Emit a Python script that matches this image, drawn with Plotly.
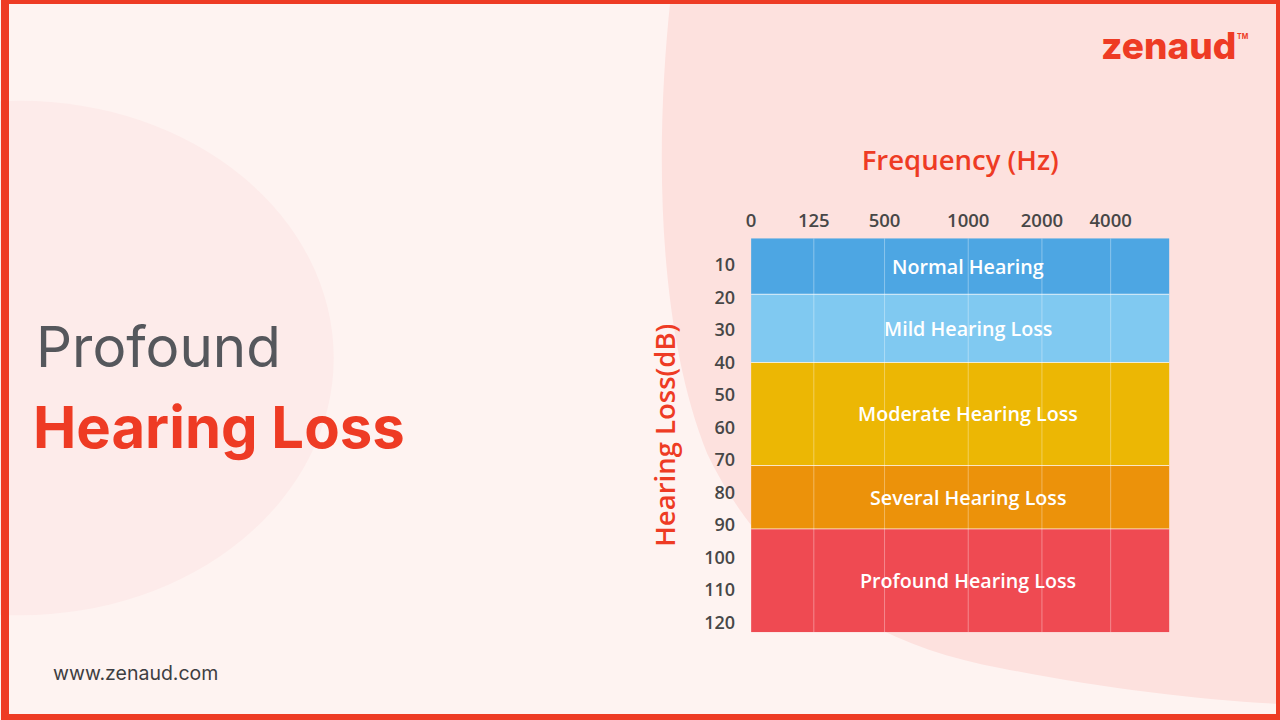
import plotly.graph_objects as go

# ---------------- data ----------------
band_labels = ["Normal Hearing", "Mild Hearing Loss", "Moderate Hearing Loss",
               "Several Hearing Loss", "Profound Hearing Loss"]
band_top = [1.8, 19, 40, 71.7, 91.2]        # dB (upper edge of band)
band_bottom = [19, 40, 71.7, 91.2, 123]     # dB (lower edge of band)
band_colors = ["#4DA6E3", "#80C9F1", "#ECB704", "#EC920A", "#EF4A52"]

freq_labels = ["0", "125", "500", "1000", "2000", "4000"]
freq_pos = [0, 63, 134, 218, 292, 361]      # position of each frequency column
x_extent = 420                              # width of the audiogram grid

db_ticks = [10, 20, 30, 40, 50, 60, 70, 80, 90, 100, 110, 120]

W, H = 1280, 720
RED = "#EE3B24"
CHART_FONT = "Open Sans"
TEXT_FONT = "Inter"


def px(x):
    return x / W


def py(y):
    return 1 - y / H


fig = go.Figure()

# bands
for lab, t, b, c in zip(band_labels, band_top, band_bottom, band_colors):
    fig.add_trace(go.Bar(
        x=[x_extent / 2], width=[x_extent], base=[t], y=[b - t],
        marker=dict(color=c, line=dict(width=0)),
        hoverinfo="skip", name=lab,
    ))

# faint vertical grid lines over the bands
gx, gy = [], []
for p in freq_pos[1:]:
    gx += [p, p, None]
    gy += [band_top[0], band_bottom[-1], None]
fig.add_trace(go.Scatter(x=gx, y=gy, mode="lines",
                         line=dict(color="rgba(255,255,255,0.35)", width=1),
                         hoverinfo="skip"))
# band separators
hx, hy = [], []
for t in band_top[1:]:
    hx += [0, x_extent, None]
    hy += [t, t, None]
fig.add_trace(go.Scatter(x=hx, y=hy, mode="lines",
                         line=dict(color="rgba(255,255,255,0.7)", width=1),
                         hoverinfo="skip"))

annotations = []
# band labels centred on the 1000 Hz column
for lab, t, b in zip(band_labels, band_top, band_bottom):
    annotations.append(dict(
        x=freq_pos[3], y=(t + b) / 2, xref="x", yref="y", text=lab,
        showarrow=False, xanchor="center", yanchor="middle",
        font=dict(family=CHART_FONT, size=19.7, color="white", weight=600)))

# left headline
annotations += [
    dict(x=px(29), y=py(347), xref="paper", yref="paper", text="Profound",
         showarrow=False, xanchor="left", yanchor="middle",
         font=dict(family=TEXT_FONT, size=56.5, color="#55575C", weight=400)),
    dict(x=px(26), y=py(428), xref="paper", yref="paper", text="Hearing Loss",
         showarrow=False, xanchor="left", yanchor="middle",
         font=dict(family=TEXT_FONT, size=58, color=RED, weight=700)),
    dict(x=px(46), y=py(675), xref="paper", yref="paper", text="www.zenaud.com",
         showarrow=False, xanchor="left", yanchor="middle",
         font=dict(family=TEXT_FONT, size=19.5, color="#3E3E42", weight=400)),
    dict(x=px(1098), y=py(46), xref="paper", yref="paper", text="zenaud",
         showarrow=False, xanchor="left", yanchor="middle",
         font=dict(family=TEXT_FONT, size=37, color=RED, weight=800)),
    dict(x=px(1235), y=py(37), xref="paper", yref="paper", text="TM",
         showarrow=False, xanchor="left", yanchor="middle",
         font=dict(family=TEXT_FONT, size=7, color=RED, weight=700)),
]

shapes = [
    # right pink blob
    dict(type="path", xref="paper", yref="paper", layer="below",
         path=(f"M {px(668)},{py(0)} "
               f"C {px(652)},{py(150)} {px(655)},{py(330)} {px(705)},{py(455)} "
               f"C {px(760)},{py(570)} {px(860)},{py(645)} {px(1000)},{py(670)} "
               f"C {px(1100)},{py(690)} {px(1200)},{py(702)} {px(1280)},{py(706)} "
               f"L {px(1280)},{py(0)} Z"),
         fillcolor="#FDE1DE", line=dict(width=0)),
    # left pale blob
    dict(type="circle", xref="paper", yref="paper", layer="below",
         x0=px(-300), x1=px(330), y0=py(617), y1=py(101),
         fillcolor="#FDEBEA", line=dict(width=0)),
    # border
    dict(type="rect", xref="paper", yref="paper", layer="above",
         x0=0, x1=1, y0=0, y1=1, fillcolor="rgba(0,0,0,0)",
         line=dict(color=RED, width=8)),
]

fig.update_layout(
    width=W, height=H, autosize=False,
    margin=dict(l=0, r=0, t=0, b=0),
    paper_bgcolor="#FEF3F1", plot_bgcolor="rgba(0,0,0,0)",
    barmode="overlay", showlegend=False, hovermode=False,
    annotations=annotations, shapes=shapes,
    xaxis=dict(
        domain=[px(749), px(1169)], range=[0, x_extent], side="top",
        tickmode="array", tickvals=freq_pos, ticktext=freq_labels,
        showgrid=False, zeroline=False, showline=False, ticks="",
        ticklabelstandoff=7,
        tickfont=dict(family=CHART_FONT, size=18.5, color="#474747", weight=600),
        title=dict(text="Frequency (Hz)", standoff=28,
                   font=dict(family=CHART_FONT, size=27.5, color=RED, weight=600)),
        fixedrange=True,
    ),
    yaxis=dict(
        domain=[py(634), py(239)], range=[band_bottom[-1], band_top[0]],
        tickmode="array", tickvals=db_ticks,
        showgrid=False, zeroline=False, showline=False, ticks="",
        ticklabelstandoff=15,
        tickfont=dict(family=CHART_FONT, size=18, color="#474747", weight=600),
        title=dict(text="Hearing Loss(dB)", standoff=20,
                   font=dict(family=CHART_FONT, size=27.5, color=RED, weight=600)),
        fixedrange=True,
    ),
)

fig.write_html("out.html", config={"displayModeBar": False})
